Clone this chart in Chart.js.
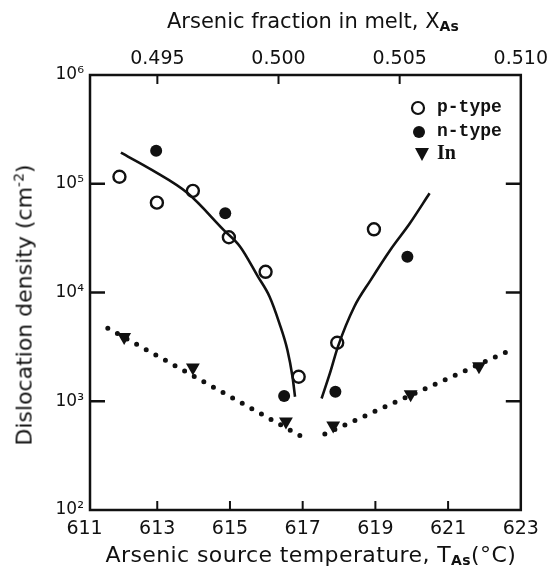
<!DOCTYPE html>
<html>
<head>
<meta charset="utf-8">
<script src="https://cdn.jsdelivr.net/npm/chart.js@4.4.0/dist/chart.umd.min.js"></script>
<style>
  body { margin: 0; background: #fff; }
  #wrap { position: relative; width: 553px; height: 574px; font-family: "DejaVu Sans", sans-serif; color: #111; }
  canvas { position: absolute; left: 0; top: 0; }
  .lbl { position: absolute; font-size: 21px; white-space: nowrap; line-height: 1; }
  .lbl sub { font-size: 14px; font-weight: bold; vertical-align: -3px; }
  .lbl sup { font-size: 14px; vertical-align: 8px; }
  #tBottom { font-size: 22px; letter-spacing: 0.4px; }
  #tLeft { font-size: 22px; }
</style>
</head>
<body>
<div id="wrap">
  <canvas id="grafica" width="553" height="574"></canvas>
  <div class="lbl" id="tTop">Arsenic fraction in melt, X<sub>As</sub></div>
  <div class="lbl" id="tBottom">Arsenic source temperature, T<sub>As</sub>(°C)</div>
  <div class="lbl" id="tLeft">Dislocation density (cm<sup>-2</sup>)</div>
</div>
<script>
// datos: [temperatura °C, densidad cm-2]
const pType = [[611.96, 1.16e5], [612.99, 6.7e4], [613.98, 8.6e4], [614.97, 3.22e4], [615.98, 1.55e4], [616.89, 1.68e3], [617.95, 3.45e3], [618.96, 3.81e4]];
const nType = [[612.97, 2.01e5], [614.87, 5.35e4], [616.49, 1.12e3], [617.9, 1.22e3], [619.88, 2.13e4]];
const inData = [[612.09, 3.9e3], [613.98, 2.04e3], [616.54, 650], [617.84, 600], [619.97, 1.16e3], [621.85, 2.1e3]];
// curvas ajustadas (trazo continuo)
const curvaIzq = [[612.0, 1.93e5], [612.85, 1.34e5], [613.84, 8.17e4], [614.83, 3.75e4], [615.28, 2.64e4], [615.77, 1.4e4], [616.09, 9.15e3], [616.36, 5.21e3], [616.58, 2.96e3], [616.72, 1.68e3], [616.79, 1.1e3]];
const curvaDer = [[617.52, 1.06e3], [617.75, 1.81e3], [617.97, 3.18e3], [618.42, 7.4e3], [618.87, 1.3e4], [619.41, 2.46e4], [619.95, 4.33e4], [620.49, 8.17e4]];
// lineas punteadas (In)
const puntosIzq = [[611.64, 4.7e3], [616.99, 470]];
const puntosDer = [[617.61, 500], [622.73, 2.96e3]];

const tempTicks = [611, 613, 615, 617, 619, 621, 623];
const tempMarks = [613, 615, 617, 619, 621];
const fracTicks = [0.495, 0.500, 0.505, 0.510];
const fracMarks = [0.495, 0.500, 0.505];
const densTicks = [1e2, 1e3, 1e4, 1e5, 1e6];
const densMarks = [1e3, 1e4, 1e5];
const supers = { 2: '²', 3: '³', 4: '⁴', 5: '⁵', 6: '⁶' };

const xy = arr => arr.map(p => ({ x: p[0], y: p[1] }));
const tinta = '#111';

const marcos = {
  id: 'marcos',
  afterDraw(chart) {
    const { ctx, chartArea: a, scales } = chart;
    ctx.save();
    ctx.strokeStyle = tinta;
    ctx.lineWidth = 2.5;
    ctx.strokeRect(a.left, a.top, a.right - a.left, a.bottom - a.top);
    const linea = (x1, y1, x2, y2) => { ctx.beginPath(); ctx.moveTo(x1, y1); ctx.lineTo(x2, y2); ctx.stroke(); };
    densMarks.forEach(v => {
      const p = scales.y.getPixelForValue(v);
      linea(a.left, p, a.left + 15, p);
      linea(a.right, p, a.right - 15, p);
    });
    ctx.lineWidth = 2;
    tempMarks.forEach(v => {
      const p = scales.x.getPixelForValue(v);
      linea(p, a.bottom, p, a.bottom - 9);
    });
    fracMarks.forEach(v => {
      const p = scales.x2.getPixelForValue(v);
      linea(p, a.top, p, a.top + 9);
    });
    // leyenda
    ctx.fillStyle = tinta;
    ctx.lineWidth = 2.2;
    ctx.beginPath(); ctx.arc(418, 108, 6, 0, Math.PI * 2); ctx.stroke();
    ctx.beginPath(); ctx.arc(419, 132, 6, 0, Math.PI * 2); ctx.fill();
    ctx.beginPath(); ctx.moveTo(415, 148); ctx.lineTo(429, 148); ctx.lineTo(422, 161); ctx.closePath(); ctx.fill();
    ctx.font = 'bold 18px "Liberation Mono", monospace';
    ctx.textBaseline = 'middle';
    ctx.fillText('p-type', 437, 107);
    ctx.fillText('n-type', 437, 131);
    ctx.font = 'bold 20px "Liberation Serif", serif';
    ctx.fillText('In', 437, 154);
    ctx.restore();
  }
};

const ctx = document.getElementById('grafica').getContext('2d');
new Chart(ctx, {
  type: 'scatter',
  data: {
    datasets: [
      { data: xy(curvaIzq), showLine: true, borderColor: tinta, borderWidth: 2.6, pointRadius: 0, cubicInterpolationMode: 'monotone' },
      { data: xy(curvaDer), showLine: true, borderColor: tinta, borderWidth: 2.6, pointRadius: 0, cubicInterpolationMode: 'monotone' },
      { data: xy(puntosIzq), showLine: true, borderColor: tinta, borderWidth: 5, borderDash: [0, 11], borderCapStyle: 'round', pointRadius: 0 },
      { data: xy(puntosDer), showLine: true, borderColor: tinta, borderWidth: 5, borderDash: [0, 11], borderCapStyle: 'round', pointRadius: 0 },
      { label: 'p-type', data: xy(pType), pointRadius: 6, pointBorderWidth: 2.4, pointBorderColor: tinta, pointBackgroundColor: '#fff' },
      { label: 'n-type', data: xy(nType), pointRadius: 6, pointBorderWidth: 0, pointBackgroundColor: tinta },
      { label: 'In', data: xy(inData), pointStyle: 'triangle', pointRotation: 180, pointRadius: 8, pointBorderWidth: 0, pointBackgroundColor: tinta }
    ]
  },
  options: {
    responsive: false,
    animation: false,
    layout: { padding: { left: 0, right: 23, top: 0, bottom: 0 } },
    plugins: { legend: { display: false }, tooltip: { enabled: false } },
    scales: {
      x: {
        type: 'linear', position: 'bottom', min: 611.15, max: 623,
        afterBuildTicks: s => { s.ticks = tempTicks.map(v => ({ value: v })); },
        afterFit: s => { s.height = 64; },
        grid: { display: false, drawTicks: false }, border: { display: false },
        ticks: { color: tinta, padding: 8, maxRotation: 0, autoSkip: false, font: { family: 'DejaVu Sans', size: 19 }, callback: v => String(v) }
      },
      x2: {
        type: 'linear', position: 'top', axis: 'x', min: 0.49222, max: 0.510,
        afterBuildTicks: s => { s.ticks = fracTicks.map(v => ({ value: v })); },
        afterFit: s => { s.height = 75; },
        grid: { display: false, drawTicks: false }, border: { display: false },
        ticks: { color: tinta, padding: 5, maxRotation: 0, autoSkip: false, font: { family: 'DejaVu Sans', size: 19 }, callback: v => v.toFixed(3) }
      },
      y: {
        type: 'logarithmic', min: 100, max: 1e6,
        afterBuildTicks: s => { s.ticks = densTicks.map(v => ({ value: v })); },
        afterFit: s => { s.width = 90; },
        grid: { display: false, drawTicks: false }, border: { display: false },
        ticks: { color: tinta, padding: 6, autoSkip: false, font: { family: 'DejaVu Sans', size: 17 }, callback: v => '10' + supers[Math.round(Math.log10(v))] }
      }
    }
  },
  plugins: [marcos]
});

// titulos de ejes
const tTop = document.getElementById('tTop');
tTop.style.left = (313 - tTop.offsetWidth / 2) + 'px';
tTop.style.top = '11px';
const tBottom = document.getElementById('tBottom');
tBottom.style.left = (311 - tBottom.offsetWidth / 2) + 'px';
tBottom.style.top = '544px';
const tLeft = document.getElementById('tLeft');
tLeft.style.left = (23 - tLeft.offsetWidth / 2) + 'px';
tLeft.style.top = (305 - tLeft.offsetHeight / 2) + 'px';
tLeft.style.transform = 'rotate(-90deg)';
</script>
</body>
</html>
